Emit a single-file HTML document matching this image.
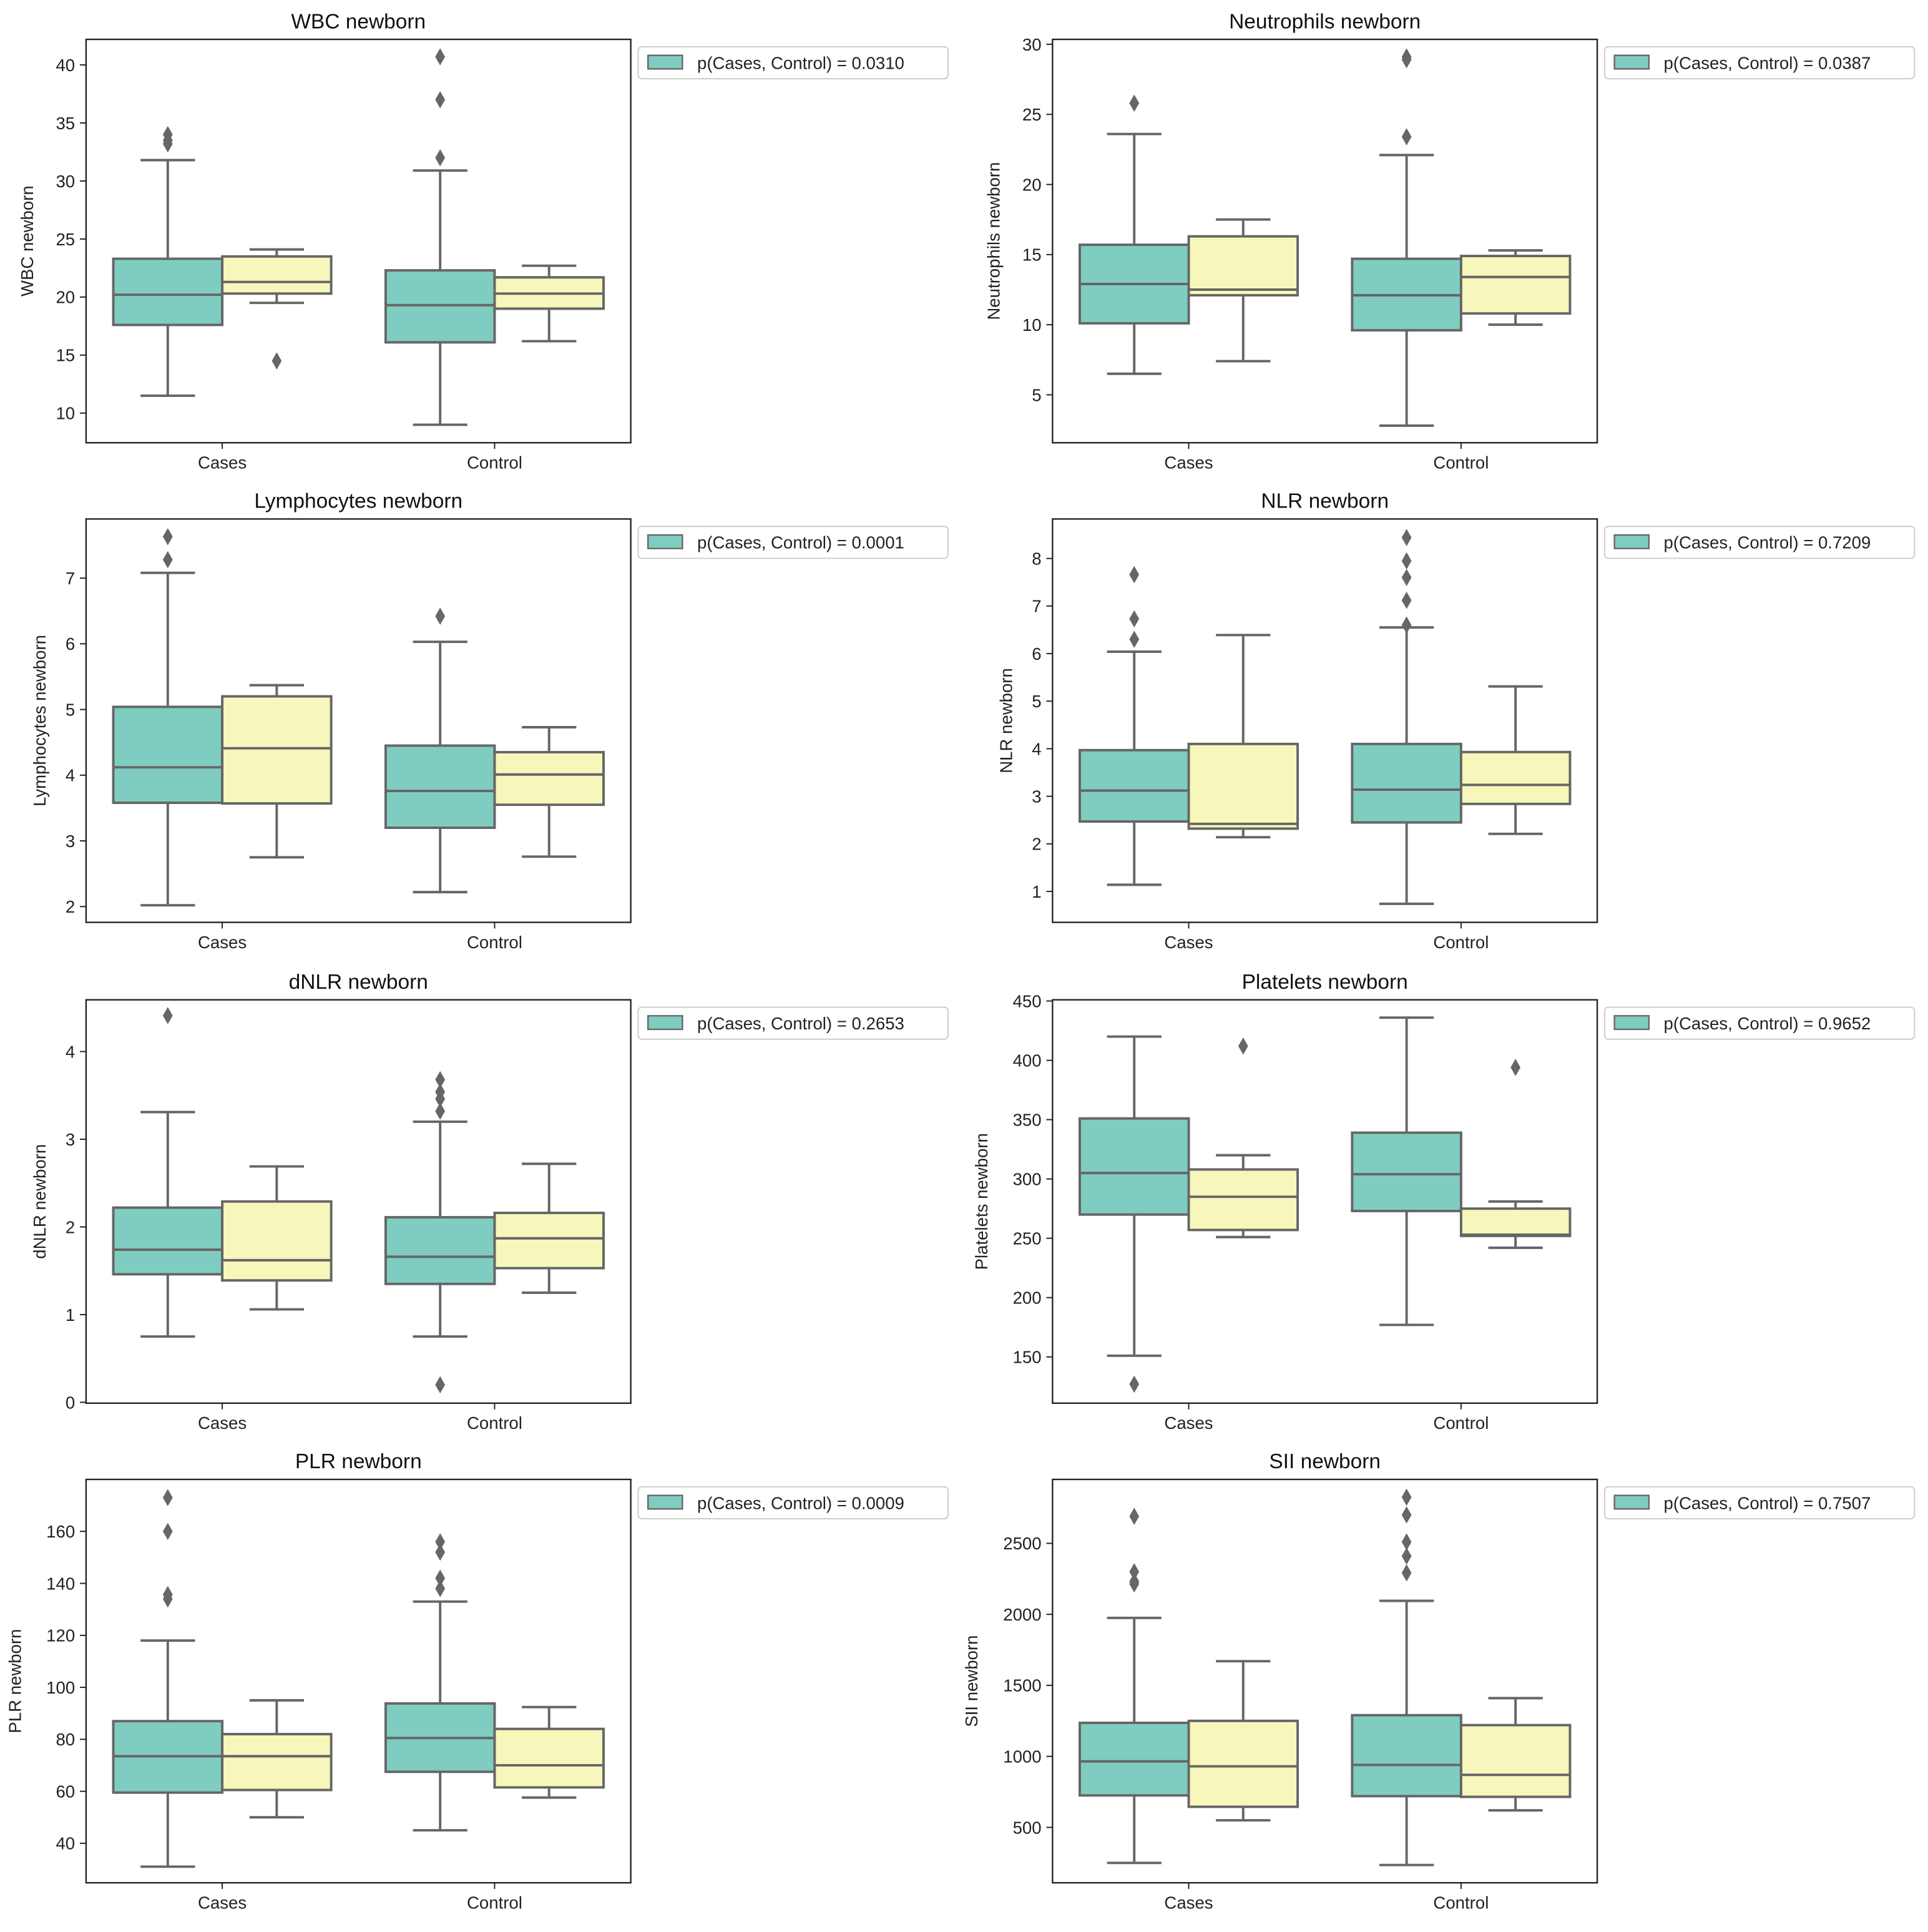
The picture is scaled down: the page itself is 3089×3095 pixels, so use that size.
<!DOCTYPE html>
<html><head><meta charset="utf-8"><style>
html,body{margin:0;padding:0;background:#fff;}
svg{display:block;font-family:"Liberation Sans","DejaVu Sans",sans-serif;}
</style></head><body>
<svg id="fig" width="3089" height="3095" viewBox="0 0 1568 1571" xmlns="http://www.w3.org/2000/svg"></svg>
<script>
// ---- data ----
const panelTitles = ["WBC newborn","Neutrophils newborn","Lymphocytes newborn","NLR newborn","dNLR newborn","Platelets newborn","PLR newborn","SII newborn"];
const pValues = ["0.0310","0.0387","0.0001","0.7209","0.2653","0.9652","0.0009","0.7507"];
const yDomains = [[7.45,42.2],[1.58,30.35],[1.76,7.9],[0.35,8.83],[-0.01,4.59],[111,451],[24.8,180],[110,2950]];
const yTicks = [[10,15,20,25,30,35,40],[5,10,15,20,25,30],[2,3,4,5,6,7],[1,2,3,4,5,6,7,8],[0,1,2,3,4],[150,200,250,300,350,400,450],[40,60,80,100,120,140,160],[500,1000,1500,2000,2500]];
const categories = ["Cases","Control"];
// each box: [whiskerLow, q1, median, q3, whiskerHigh]; order: casesTeal, casesYellow, controlTeal, controlYellow
const boxStats = [
 [[11.5,17.6,20.2,23.3,31.8],[19.5,20.3,21.3,23.5,24.1],[9.0,16.1,19.3,22.3,30.9],[16.2,19.0,20.3,21.7,22.7]],
 [[6.5,10.1,12.9,15.7,23.6],[7.4,12.1,12.5,16.3,17.5],[2.8,9.6,12.1,14.7,22.1],[10.0,10.8,13.4,14.9,15.3]],
 [[2.02,3.58,4.12,5.04,7.08],[2.75,3.57,4.41,5.2,5.37],[2.22,3.2,3.76,4.45,6.03],[2.76,3.55,4.01,4.35,4.73]],
 [[1.14,2.47,3.12,3.97,6.04],[2.14,2.32,2.42,4.1,6.39],[0.74,2.45,3.14,4.1,6.55],[2.21,2.84,3.24,3.93,5.31]],
 [[0.75,1.46,1.74,2.22,3.31],[1.06,1.39,1.62,2.29,2.69],[0.75,1.35,1.66,2.11,3.2],[1.25,1.53,1.87,2.16,2.72]],
 [[151,270,305,351,420],[251,257,285,308,320],[177,273,304,339,436],[242,252,253,275,281]],
 [[31,59.5,73.5,87,118],[50,60.5,73.5,82,95],[45,67.5,80.5,93.8,133],[57.6,61.5,70,84,92.4]],
 [[250,725,965,1236,1975],[550,645,930,1250,1670],[235,720,940,1290,2095],[620,715,870,1220,1410]]
];
const outliers = [
 [[33.2,33.5,34.0],[14.5],[32.0,37.0,40.7],[]],
 [[25.8],[],[23.4,28.9,29.1],[]],
 [[7.28,7.63],[],[6.42],[]],
 [[6.3,6.73,7.66],[],[6.6,7.12,7.6,7.95,8.44],[]],
 [[4.41],[],[0.2,3.32,3.46,3.54,3.68],[]],
 [[127],[412],[],[394]],
 [[134,135.7,160,173],[],[138,142,152,156],[]],
 [[2214,2232,2300,2690],[],[2292,2410,2510,2700,2825],[]]
];
// ---- layout ----
const svg = document.getElementById('fig');
const NS = "http://www.w3.org/2000/svg";
const colLeft = [70,856], axW = 443, rowTop = [32,422,813,1203], axH = 328;
const labelOffset = [43,43,33,33,33,53,53,61];
const fills = ["#7fcdc0","#f7f7bb"];
const stroke = "#666666";
function mk(tag, attrs, parent){const e=document.createElementNS(NS,tag);for(const k in attrs)e.setAttribute(k,attrs[k]);(parent||svg).appendChild(e);return e;}

panelTitles.forEach((title,i)=>{
  const x0 = colLeft[i%2], y0 = rowTop[Math.floor(i/2)];
  const [dmin,dmax] = yDomains[i];
  const ys = v => y0 + axH - (v-dmin)/(dmax-dmin)*axH;
  const xs = u => x0 + (u+0.5)/2*axW;
  const g = mk('g',{});
  
  
  const t = mk('text',{x:x0+axW/2,y:y0-9,'text-anchor':'middle','font-size':17,fill:'#111'},g);
  t.textContent = title;
  
  
  yTicks[i].forEach(v=>{
    const y = ys(v);
    mk('line',{x1:x0-5,x2:x0,y1:y,y2:y,stroke:'#222','stroke-width':1},g);
    const tl = mk('text',{x:x0-9,y:y+5,'text-anchor':'end','font-size':14,fill:'#222'},g);
    tl.textContent = v;
    
    
  });
  const yl = mk('text',{transform:`translate(${x0-labelOffset[i]},${y0+axH/2}) rotate(-90)`,'text-anchor':'middle','font-size':14,fill:'#222'},g);
  yl.textContent = title;
  
  
  categories.forEach((c,ci)=>{
    const x = xs(ci);
    mk('line',{x1:x,x2:x,y1:y0+axH,y2:y0+axH+5,stroke:'#222','stroke-width':1},g);
    const xl = mk('text',{x:x,y:y0+axH+21,'text-anchor':'middle','font-size':14,fill:'#222'},g);
    xl.textContent = c;
    
    
  });
  boxStats[i].forEach((s,bi)=>{
    const ci = Math.floor(bi/2), hue = bi%2;
    const bl = xs(ci) + (hue===0 ? -0.4*axW/2 : 0);
    const bw = 0.4*axW/2;
    const cx = bl + bw/2;
    const bg = mk('g',{},g);
    
    
    mk('line',{x1:cx,x2:cx,y1:ys(s[0]),y2:ys(s[1]),stroke:stroke,'stroke-width':2},bg);
    mk('line',{x1:cx,x2:cx,y1:ys(s[3]),y2:ys(s[4]),stroke:stroke,'stroke-width':2},bg);
    mk('line',{x1:cx-bw/4,x2:cx+bw/4,y1:ys(s[0]),y2:ys(s[0]),stroke:stroke,'stroke-width':2},bg);
    mk('line',{x1:cx-bw/4,x2:cx+bw/4,y1:ys(s[4]),y2:ys(s[4]),stroke:stroke,'stroke-width':2},bg);
    mk('rect',{x:bl,y:ys(s[3]),width:bw,height:ys(s[1])-ys(s[3]),fill:fills[hue],stroke:stroke,'stroke-width':2},bg);
    mk('line',{x1:bl,x2:bl+bw,y1:ys(s[2]),y2:ys(s[2]),stroke:stroke,'stroke-width':2},bg);
    outliers[i][bi].forEach(v=>{
      const y = ys(v);
      const d = mk('polygon',{points:`${cx},${y-7} ${cx+4},${y} ${cx},${y+7} ${cx-4},${y}`,fill:stroke},bg);
      
      
    });
  });
  const frame = mk('rect',{x:x0,y:y0,width:axW,height:axH,fill:'none',stroke:'#222','stroke-width':1.2},g);
  
  
  const lg = mk('g',{},g);
  
  
  mk('rect',{x:x0+axW+6,y:y0+6,width:252,height:26,rx:3,fill:'#fff',stroke:'#ccc','stroke-width':1},lg);
  mk('rect',{x:x0+axW+14,y:y0+13,width:28,height:11,fill:fills[0],stroke:stroke,'stroke-width':1.2},lg);
  const lt = mk('text',{x:x0+axW+54,y:y0+24,'font-size':14,fill:'#222'},lg);
  lt.textContent = 'p(Cases, Control) = '+pValues[i];
  
  
});
</script>
</body></html>
